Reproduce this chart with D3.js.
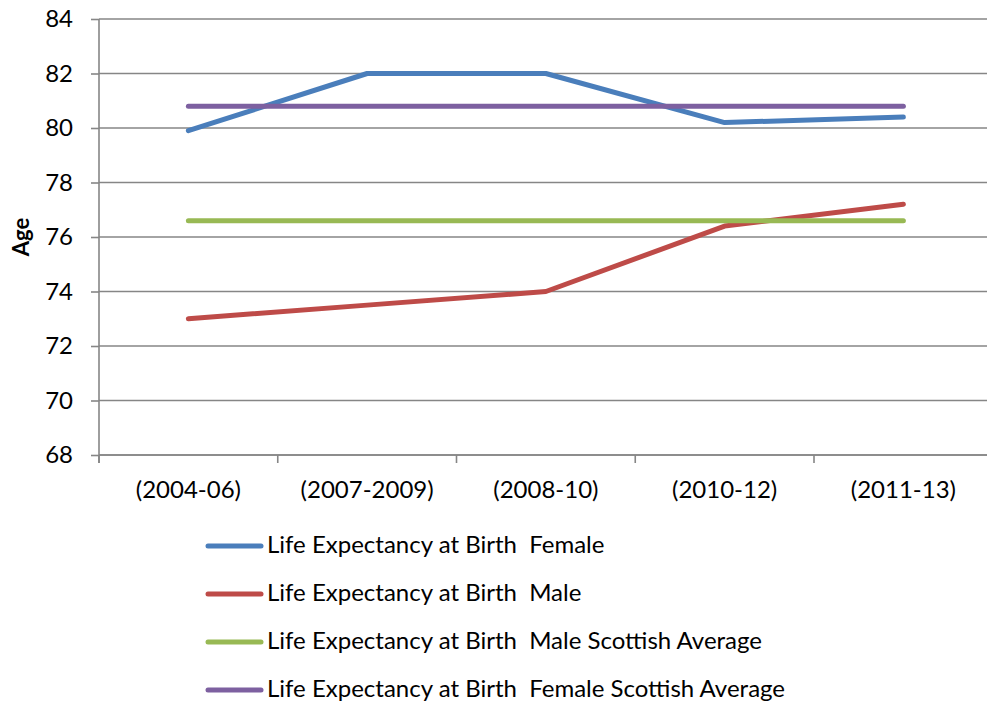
<!DOCTYPE html>
<html>
<head>
<meta charset="utf-8">
<script src="https://cdn.jsdelivr.net/npm/d3@7"></script>
<style>
  body { margin: 0; background: #fff; }
  text { font-family: Lato, "Open Sans", sans-serif; fill: #000; }
</style>
</head>
<body>
<script>
// chart data
let periods = ["(2004-06)", "(2007-2009)", "(2008-10)", "(2010-12)", "(2011-13)"];
let female = [79.9, 82, 82, 80.2, 80.4];
let male = [73, 73.5, 74, 76.4, 77.2];
let maleScotAvg = [76.6, 76.6, 76.6, 76.6, 76.6];
let femaleScotAvg = [80.8, 80.8, 80.8, 80.8, 80.8];
let yTicks = [68, 70, 72, 74, 76, 78, 80, 82, 84];
let seriesNames = [
    "Life Expectancy at Birth  Female",
    "Life Expectancy at Birth  Male",
    "Life Expectancy at Birth  Male Scottish Average",
    "Life Expectancy at Birth  Female Scottish Average"
];
let seriesColors = ["#4a7ebb", "#be4b48", "#98b954", "#7d60a0"];

let w = 987;
let h = 705;
let padLeft = 99, padRight = 992.75, padTop = 19, padBottom = 455;

const svg = d3.select("body")
    .append("svg")
    .attr("width", w)
    .attr("height", h);

const xScale = d3.scaleBand()
    .domain(periods)
    .range([padLeft, padRight])
    .padding(0);

const yScale = d3.scaleLinear()
    .domain([68, 84])
    .range([padBottom, padTop]);

// horizontal gridlines
svg.append("g")
    .selectAll("line")
    .data(yTicks)
    .enter()
    .append("line")
    .attr("x1", padLeft)
    .attr("x2", padRight)
    .attr("y1", d => yScale(d))
    .attr("y2", d => yScale(d))
    .attr("stroke", "#868686")
    .attr("stroke-width", 1.6);

// y axis
const yAxis = d3.axisLeft(yScale).tickValues(yTicks).tickSize(8).tickPadding(18);
svg.append("g")
    .attr("transform", "translate(" + padLeft + ",0)")
    .call(yAxis)
    .call(g => g.selectAll("line").attr("stroke", "#868686").attr("stroke-width", 1.6))
    .call(g => g.select(".domain").attr("stroke", "#868686").attr("stroke-width", 1.6).attr("d", "M0," + padTop + "V" + (padBottom + 8)))
    .call(g => g.selectAll("text").style("font-size", "24px").attr("fill", "#000"));

// x axis: labels centred in bands, ticks at band edges
const xAxis = d3.axisBottom(xScale).tickSize(0).tickPadding(26);
svg.append("g")
    .attr("transform", "translate(0," + padBottom + ")")
    .call(xAxis)
    .call(g => g.select(".domain").remove())
    .call(g => g.selectAll("text").style("font-size", "24px").attr("fill", "#000"));

let edges = periods.map(p => xScale(p)).concat([xScale.range()[1]]);
svg.append("g")
    .selectAll("line")
    .data(edges)
    .enter()
    .append("line")
    .attr("x1", d => d)
    .attr("x2", d => d)
    .attr("y1", padBottom)
    .attr("y2", padBottom + 8)
    .attr("stroke", "#868686")
    .attr("stroke-width", 1.6);

svg.append("line")
    .attr("x1", padLeft).attr("x2", padRight)
    .attr("y1", padBottom).attr("y2", padBottom)
    .attr("stroke", "#868686")
    .attr("stroke-width", 1.6);

// y axis title
svg.append("text")
    .attr("transform", "translate(29," + ((padTop + padBottom) / 2) + ") rotate(-90)")
    .attr("text-anchor", "middle")
    .style("font-size", "22px")
    .style("font-weight", "bold")
    .text("Age");

// series lines
let allSeries = [female, male, maleScotAvg, femaleScotAvg];
let lineGen = d3.line()
    .x((d, i) => xScale(periods[i]) + xScale.bandwidth() / 2)
    .y(d => yScale(d));

svg.append("g")
    .selectAll("path")
    .data(allSeries)
    .enter()
    .append("path")
    .attr("d", d => lineGen(d))
    .attr("fill", "none")
    .attr("stroke", (d, i) => seriesColors[i])
    .attr("stroke-width", 5)
    .attr("stroke-linecap", "round")
    .attr("stroke-linejoin", "round");

// legend
let legend = svg.append("g").attr("transform", "translate(208,546)");
let items = legend.selectAll("g")
    .data(seriesNames)
    .enter()
    .append("g")
    .attr("transform", (d, i) => "translate(0," + i * 48 + ")");

items.append("line")
    .attr("x1", 0).attr("x2", 53)
    .attr("y1", 0).attr("y2", 0)
    .attr("stroke", (d, i) => seriesColors[i])
    .attr("stroke-width", 5)
    .attr("stroke-linecap", "round");

items.append("text")
    .attr("x", 59)
    .attr("y", 7)
    .style("font-size", "24px")
    .style("white-space", "pre")
    .text(d => d);
</script>
</body>
</html>
